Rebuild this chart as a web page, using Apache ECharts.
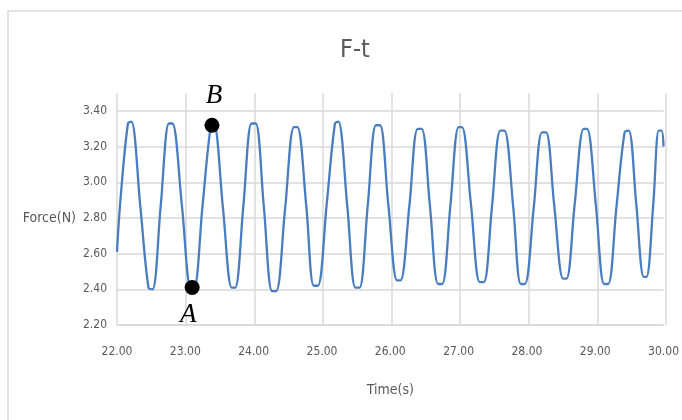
<!DOCTYPE html>
<html><head><meta charset="utf-8">
<script src="https://cdn.jsdelivr.net/npm/echarts@6/dist/echarts.min.js"></script>
<style>html,body{margin:0;padding:0;background:#fff}#c{width:682px;height:420px}</style>
</head><body><div id="c"></div>
<script>
const chartTitle = 'F-t';
const xName = 'Time(s)';
const yName = 'Force(N)';
const time = [
  22.00, 22.05, 22.16, 22.21, 22.34, 22.46, 22.52, 22.64, 22.76, 22.81,
  22.95, 23.08, 23.13, 23.25, 23.37, 23.42, 23.55, 23.68, 23.73, 23.85,
  23.97, 24.03, 24.15, 24.27, 24.33, 24.46, 24.59, 24.64, 24.77, 24.88,
  24.94, 25.07, 25.19, 25.24, 25.37, 25.49, 25.55, 25.67, 25.79, 25.85,
  25.97, 26.10, 26.15, 26.28, 26.40, 26.46, 26.58, 26.70, 26.76, 26.88,
  27.00, 27.05, 27.18, 27.31, 27.37, 27.49, 27.61, 27.67, 27.80, 27.91,
  27.97, 28.10, 28.22, 28.28, 28.40, 28.53, 28.58, 28.70, 28.83, 28.88,
  29.01, 29.13, 29.19, 29.31, 29.43, 29.49, 29.60, 29.71, 29.75, 29.85,
  29.93, 29.97, 30.00
];
const force = [
  2.61, 2.90, 3.33, 3.34, 2.87, 2.41, 2.40, 2.87, 3.33, 3.33,
  2.87, 2.41, 2.41, 2.86, 3.31, 3.32, 2.86, 2.41, 2.41, 2.87,
  3.33, 3.33, 2.86, 2.39, 2.39, 2.85, 3.31, 3.31, 2.87, 2.42,
  2.42, 2.88, 3.33, 3.34, 2.87, 2.41, 2.41, 2.87, 3.32, 3.32,
  2.88, 2.45, 2.45, 2.87, 3.30, 3.30, 2.87, 2.43, 2.43, 2.87,
  3.31, 3.31, 2.88, 2.44, 2.44, 2.87, 3.29, 3.29, 2.86, 2.43,
  2.43, 2.86, 3.28, 3.28, 2.87, 2.46, 2.46, 2.88, 3.30, 3.30,
  2.87, 2.43, 2.43, 2.86, 3.28, 3.29, 2.88, 2.47, 2.47, 2.88,
  3.29, 3.29, 3.20
];
const pointNames = ['A', 'B'];
const pointTime = [23.10, 23.39];
const pointForce = [2.41, 3.32];
const xMin = 22, xMax = 30, xStep = 1;
const yMin = 2.2, yMax = 3.4, yStep = 0.2;

const FONT = "'DejaVu Sans Condensed', 'DejaVu Sans', sans-serif";
const GREY = '#595959';
const GRID = '#d9d9d9';

const chart = echarts.init(document.getElementById('c'), null, {renderer: 'canvas'});
const lineData = time.map((t, i) => [t, force[i]]);
const pts = pointNames.map((n, i) => ({
  value: [pointTime[i], pointForce[i]], name: n,
  label: i === 0 ? {position: 'bottom', offset: [-4, 1]} : {position: 'top', offset: [2, -3]}
}));

chart.setOption({
  animation: false,
  backgroundColor: '#fff',
  title: {
    text: chartTitle, left: 335, top: 33,
    textStyle: {fontFamily: FONT, fontSize: 25, fontWeight: 'normal', color: GREY}
  },
  graphic: [{
    type: 'rect', shape: {x: 8, y: 11, width: 700, height: 430},
    style: {fill: 'none', stroke: '#d9d9d9', lineWidth: 1.5}, silent: true
  }],
  grid: [
    {left: 117, right: 16, top: 111, bottom: 95},
    {left: 117, right: 16, top: 93, bottom: 95}
  ],
  xAxis: [{
    type: 'value', gridIndex: 0, min: xMin, max: xMax, interval: xStep,
    name: xName, nameLocation: 'middle', nameGap: 58,
    nameTextStyle: {fontFamily: FONT, fontSize: 14, color: GREY},
    axisLine: {show: true, lineStyle: {color: GRID, width: 1.5}},
    axisTick: {show: false}, splitLine: {show: false},
    axisLabel: {fontFamily: FONT, fontSize: 12, color: GREY, margin: 21,
      formatter: v => v.toFixed(2)}
  }, {
    type: 'value', gridIndex: 1, min: xMin, max: xMax, interval: xStep,
    axisLine: {show: false}, axisTick: {show: false}, axisLabel: {show: false},
    splitLine: {show: true, lineStyle: {color: GRID, width: 1.5}}
  }],
  yAxis: [{
    type: 'value', gridIndex: 0, min: yMin, max: yMax, interval: yStep,
    name: yName, nameLocation: 'middle', nameRotate: 0, nameGap: 41,
    nameTextStyle: {fontFamily: FONT, fontSize: 14, color: GREY},
    axisLine: {show: false}, axisTick: {show: false},
    splitLine: {show: true, lineStyle: {color: GRID, width: 1.5}},
    axisLabel: {fontFamily: FONT, fontSize: 12, color: GREY, margin: 10,
      formatter: v => v.toFixed(2)}
  }, {
    type: 'value', gridIndex: 1, min: 0, max: 1,
    axisLine: {show: false}, axisTick: {show: false}, axisLabel: {show: false},
    splitLine: {show: false}
  }],
  series: [{
    type: 'line', xAxisIndex: 0, yAxisIndex: 0, data: lineData,
    smooth: 0.35, showSymbol: false, silent: true,
    lineStyle: {color: '#4a7dc0', width: 2.3}
  }, {
    type: 'scatter', xAxisIndex: 0, yAxisIndex: 0, data: pts,
    symbolSize: 15, itemStyle: {color: '#000', opacity: 1}, z: 5,
    label: {show: true, formatter: p => p.name,
      fontFamily: "'Liberation Serif', 'DejaVu Serif', serif",
      fontStyle: 'italic', fontSize: 27, color: '#000'}
  }]
});
</script></body></html>
